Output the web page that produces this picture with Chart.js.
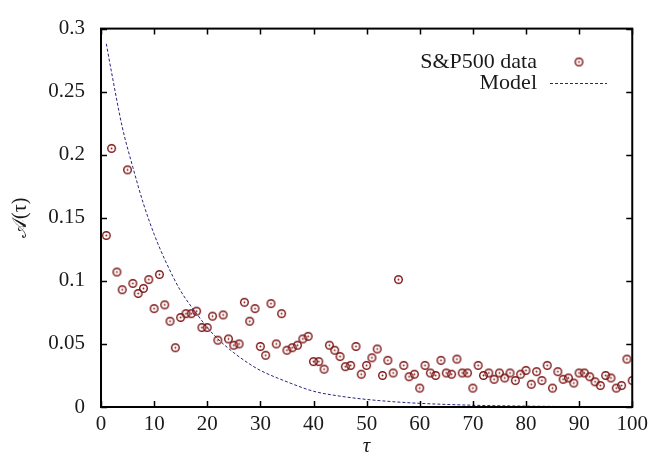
<!DOCTYPE html>
<html>
<head>
<meta charset="utf-8">
<script src="https://cdn.jsdelivr.net/npm/chart.js@4/dist/chart.umd.min.js"></script>
<style>
  html, body { margin: 0; padding: 0; background: #ffffff; }
  #wrap { width: 653px; height: 459px; }
</style>
</head>
<body>
<div id="wrap"><canvas id="chart-acf" width="653" height="459"></canvas></div>
<script>
// ===== data =====
const tau = [
  1, 2, 3, 4, 5, 6, 7, 8, 9, 10,
  11, 12, 13, 14, 15, 16, 17, 18, 19, 20,
  21, 22, 23, 24, 25, 26, 27, 28, 29, 30,
  31, 32, 33, 34, 35, 36, 37, 38, 39, 40,
  41, 42, 43, 44, 45, 46, 47, 48, 49, 50,
  51, 52, 53, 54, 55, 56, 57, 58, 59, 60,
  61, 62, 63, 64, 65, 66, 67, 68, 69, 70,
  71, 72, 73, 74, 75, 76, 77, 78, 79, 80,
  81, 82, 83, 84, 85, 86, 87, 88, 89, 90,
  91, 92, 93, 94, 95, 96, 97, 98, 99, 100
];
const spData = [
  0.136, 0.205, 0.107, 0.093, 0.188, 0.098, 0.090, 0.094, 0.101, 0.078,
  0.105, 0.081, 0.068, 0.047, 0.071, 0.074, 0.074, 0.076, 0.063, 0.063,
  0.072, 0.053, 0.073, 0.054, 0.049, 0.050, 0.083, 0.068, 0.078, 0.048,
  0.041, 0.082, 0.050, 0.074, 0.045, 0.047, 0.049, 0.054, 0.056, 0.036,
  0.036, 0.030, 0.049, 0.045, 0.040, 0.032, 0.033, 0.048, 0.026, 0.033,
  0.039, 0.046, 0.025, 0.037, 0.027, 0.101, 0.033, 0.024, 0.026, 0.015,
  0.033, 0.027, 0.025, 0.037, 0.027, 0.026, 0.038, 0.027, 0.027, 0.015,
  0.033, 0.025, 0.027, 0.022, 0.027, 0.023, 0.027, 0.021, 0.026, 0.029,
  0.018, 0.028, 0.021, 0.033, 0.015, 0.028, 0.022, 0.023, 0.019, 0.027,
  0.027, 0.024, 0.020, 0.017, 0.025, 0.023, 0.015, 0.017, 0.038, 0.021
];
const tauModel = [1, 2, 4, 6, 8, 10, 12, 15, 18, 20, 22, 25, 28, 30, 35, 40, 45, 50, 55, 60, 70, 80, 90, 100];
const modelValues = [
  0.288, 0.265, 0.222, 0.190, 0.161, 0.137, 0.117, 0.092, 0.074, 0.063, 0.054, 0.043,
  0.034, 0.029, 0.020, 0.0125, 0.0086, 0.0060, 0.0042, 0.0029, 0.0014, 0.0007, 0.0003, 0.0001
];
const xTicks = [0, 10, 20, 30, 40, 50, 60, 70, 80, 90, 100];
const yTicks = [0, 0.05, 0.1, 0.15, 0.2, 0.25, 0.3];
const yTickLabels = ['0', '0.05', '0.1', '0.15', '0.2', '0.25', '0.3'];
const seriesNames = ['S&P500 data', 'Model'];

const THEME = {
  ink: '#1a1a1a',
  frame: '#000000',
  point: '#7d1414',
  model: '#26267e',
  font: '"Liberation Serif", "DejaVu Serif", "Times New Roman", serif',
};

// open circle with a dot in the middle, like the gnuplot marker
function makeMarker() {
  const c = document.createElement('canvas');
  c.width = 11; c.height = 11;
  const g = c.getContext('2d');
  g.strokeStyle = THEME.point;
  g.fillStyle = THEME.point;
  g.lineWidth = 1.4;
  g.beginPath();
  g.arc(5.5, 5.5, 3.8, 0, Math.PI * 2);
  g.stroke();
  g.beginPath();
  g.arc(5.5, 5.5, 0.9, 0, Math.PI * 2);
  g.fill();
  return c;
}
const marker = makeMarker();

// frame + inward ticks on all four sides
const framePlugin = {
  id: 'frame',
  afterDatasetsDraw(chart) {
    const { ctx, chartArea: a, scales } = chart;
    const len = 6;
    ctx.save();
    ctx.strokeStyle = THEME.frame;
    ctx.lineWidth = 1.5;
    ctx.beginPath();
    scales.x.ticks.forEach(t => {
      const px = Math.round(scales.x.getPixelForValue(t.value)) + 0.5;
      ctx.moveTo(px, a.bottom); ctx.lineTo(px, a.bottom - len);
      ctx.moveTo(px, a.top); ctx.lineTo(px, a.top + len);
    });
    scales.y.ticks.forEach(t => {
      const py = Math.round(scales.y.getPixelForValue(t.value)) + 0.5;
      ctx.moveTo(a.left, py); ctx.lineTo(a.left + len, py);
      ctx.moveTo(a.right, py); ctx.lineTo(a.right - len, py);
    });
    ctx.stroke();
    ctx.lineWidth = 2;
    ctx.strokeRect(a.left, a.top, a.right - a.left, a.bottom - a.top);
    ctx.restore();
  }
};

// gnuplot-like key: text right aligned, sample on the right
const keyPlugin = {
  id: 'key',
  afterDraw(chart) {
    const { ctx } = chart;
    const textRight = 537;
    ctx.save();
    ctx.font = '22px ' + THEME.font;
    ctx.fillStyle = THEME.ink;
    ctx.textAlign = 'right';
    ctx.textBaseline = 'middle';
    ctx.fillText(seriesNames[0], textRight, 62);
    ctx.fillText(seriesNames[1], textRight, 83);
    ctx.drawImage(marker, 579 - 5.5, 62 - 5.5);
    ctx.strokeStyle = THEME.model;
    ctx.lineWidth = 1;
    ctx.setLineDash([3, 2]);
    ctx.beginPath();
    ctx.moveTo(550, 83.5);
    ctx.lineTo(607, 83.5);
    ctx.stroke();
    ctx.restore();
  }
};

new Chart(document.getElementById('chart-acf'), {
  type: 'scatter',
  data: {
    datasets: [
      {
        label: seriesNames[0],
        data: tau.map((t, i) => ({ x: t, y: spData[i] })),
        pointStyle: marker,
        pointRadius: 4,
        showLine: false,
      },
      {
        label: seriesNames[1],
        type: 'line',
        data: tauModel.map((t, i) => ({ x: t, y: modelValues[i] })),
        borderColor: THEME.model,
        borderWidth: 1,
        borderDash: [3, 2],
        pointRadius: 0,
        cubicInterpolationMode: 'monotone',
        fill: false,
      }
    ]
  },
  options: {
    responsive: false,
    animation: false,
    layout: { padding: { top: 13, right: 16, left: 0, bottom: 0 } },
    plugins: {
      legend: { display: false },
      tooltip: { enabled: false },
    },
    scales: {
      x: {
        type: 'linear',
        min: 0, max: 100,
        afterBuildTicks: s => { s.ticks = xTicks.map(v => ({ value: v })); },
        afterFit: s => { s.height = 52; },
        grid: { display: false, drawTicks: false },
        border: { display: false },
        ticks: { color: THEME.ink, padding: 5, maxRotation: 0, font: { family: THEME.font, size: 21 } },
        title: {
          display: true, text: 'τ', color: THEME.ink, padding: { top: 0, bottom: 0 },
          font: { family: THEME.font, size: 21, style: 'italic' }
        }
      },
      y: {
        type: 'linear',
        min: 0, max: 0.3,
        afterBuildTicks: s => { s.ticks = yTicks.map(v => ({ value: v })); },
        afterFit: s => { s.width = 101; },
        grid: { display: false, drawTicks: false },
        border: { display: false },
        ticks: {
          color: THEME.ink, padding: 16, font: { family: THEME.font, size: 21 },
          callback: (v, i) => yTickLabels[i]
        },
        title: {
          display: true, text: '𝒜(τ)', color: THEME.ink, padding: { top: 9, bottom: 0 },
          font: { family: THEME.font, size: 20 }
        }
      }
    }
  },
  plugins: [framePlugin, keyPlugin]
});
</script>
</body>
</html>
